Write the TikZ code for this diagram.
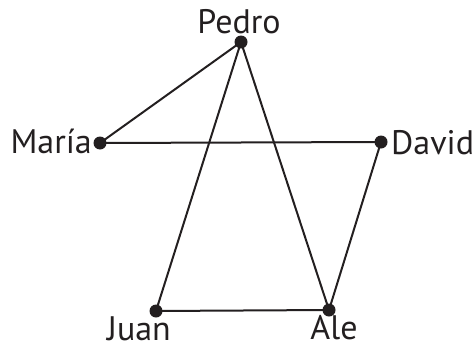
\documentclass[tikz,border=0pt]{standalone}
\usepackage{fontspec}
\setmainfont{PT Sans}
\definecolor{ink}{HTML}{231F20}
\begin{document}
\begin{tikzpicture}[x=1pt,y=-1pt,
  dot/.style={circle,fill=ink,inner sep=0pt,minimum width=13pt,minimum height=12pt},
  lbl/.style={inner sep=0pt,font=\fontsize{34}{40}\selectfont,text=ink},
  edge/.style={draw=ink,line width=2pt}]
\useasboundingbox (0,0) rectangle (476,348);
\node[dot] (P) at (241,42) {};
\node[dot] (M) at (100,143) {};
\node[dot] (D) at (381,142) {};
\node[dot] (J) at (156,311) {};
\node[dot] (A) at (329,310) {};
\node[lbl,anchor=base] (lP) at (239,33) {Pedro};
\node[lbl,anchor=base east] (lM) at (92,153) {María};
\node[lbl,anchor=base west] (lD) at (391,154) {David};
\node[lbl,anchor=base] (lJ) at (139,340) {Juan};
\node[lbl,anchor=base] (lA) at (334,339) {Ale};
\draw[edge] (P.center) -- (M.center);
\draw[edge] (M.center) -- (D.center);
\draw[edge] (P.center) -- (J.center);
\draw[edge] (P.center) -- (A.center);
\draw[edge] (J.center) -- (A.center);
\draw[edge] (D.center) -- (A.center);
\end{tikzpicture}
\end{document}
